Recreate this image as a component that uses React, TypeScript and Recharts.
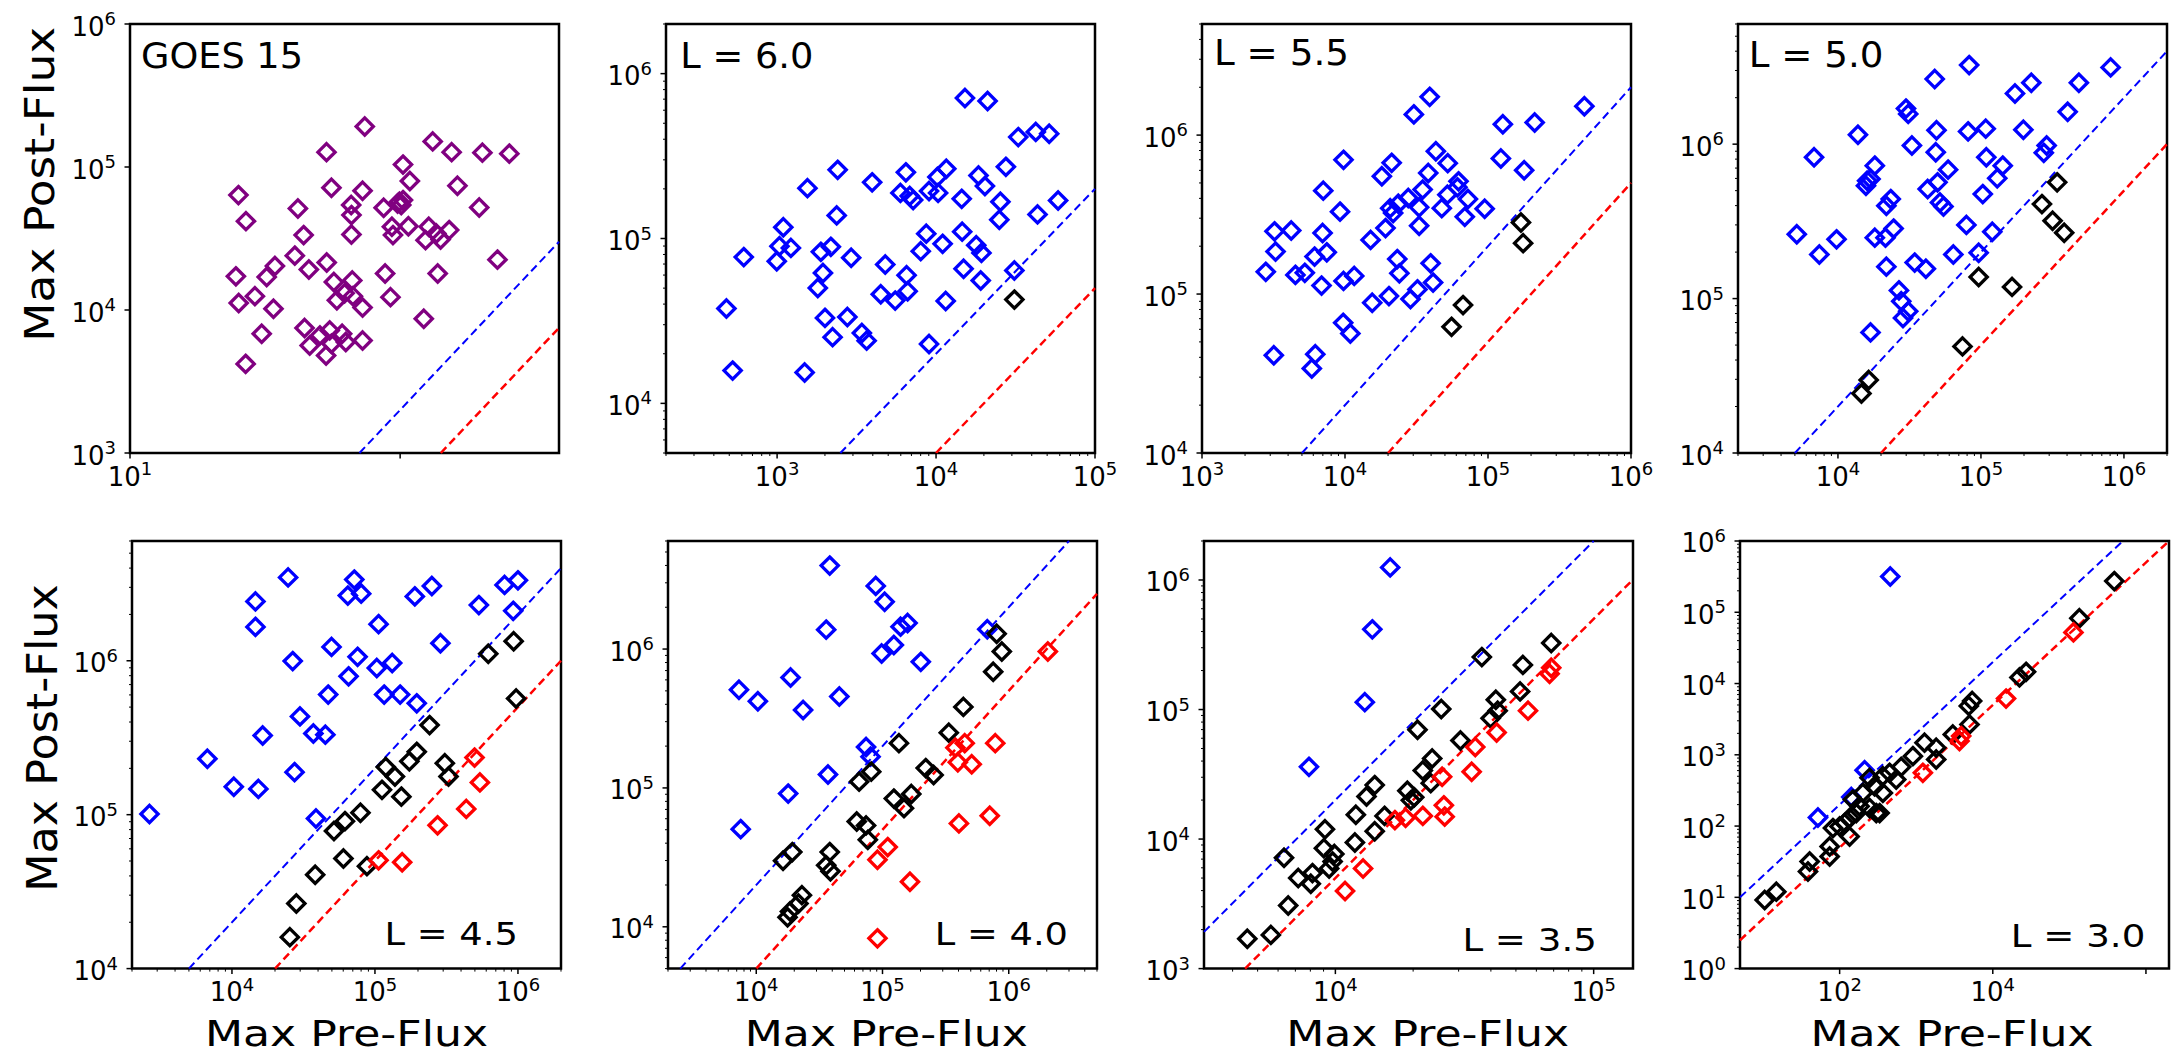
import {
  ReferenceArea,
  ReferenceLine,
  Scatter,
  ScatterChart,
  XAxis,
  YAxis,
} from "recharts";

type Pt = [number, number];

// GOES 15 (purple)
const goes15Points: Pt[] = [
  [547, 1.92e5], [285, 1.27e5], [1742, 1.51e5], [2406, 1.27e5], [4064, 1.26e5], [6430, 1.24e5],
  [1050, 1.04e5], [1180, 7.98e4], [310, 7.16e4], [527, 6.82e4], [2655, 7.4e4], [63.5, 6.36e4],
  [175, 5.13e4], [434, 5.42e4], [436, 4.61e4], [755, 5.19e4], [958, 5.56e4], [1050, 5.87e4],
  [1019, 5.42e4], [988, 5.72e4], [3850, 5.21e4], [72.2, 4.18e4], [193, 3.34e4], [436, 3.37e4],
  [869, 3.82e4], [885, 3.34e4], [1151, 3.85e4], [1629, 3.82e4], [1542, 3.08e4], [1992, 3.11e4],
  [2306, 3.62e4], [1853, 3.43e4], [166, 2.4e4], [5254, 2.25e4], [60.8, 1.72e4], [102.8, 1.7e4],
  [118.3, 2.03e4], [211, 1.92e4], [286, 2.15e4], [774, 1.8e4], [1897, 1.8e4], [323, 1.57e4],
  [442, 1.61e4], [84.1, 1.25e4], [63.8, 1.12e4], [115.4, 1.02e4], [340, 1.17e4], [388, 1.31e4],
  [447, 1.25e4], [527, 1.04e4], [848, 1.23e4], [1496, 8.69e3], [94.4, 6.82e3], [196, 7.48e3],
  [214, 5.65e3], [255, 6.64e3], [301, 7.2e3], [283, 4.81e3], [310, 5.81e3], [372, 6.82e3],
  [396, 5.97e3], [527, 6.12e3], [71.8, 4.2e3],
];

// L = 6.0
const l60Blue: Pt[] = [
  [1.52e4, 7.11e5], [2.11e4, 6.82e5], [3.29e4, 4.12e5], [4.24e4, 4.43e5], [5.15e4, 4.32e5],
  [2405, 2.61e5], [6459, 2.52e5], [1.16e4, 2.65e5], [1.02e4, 2.36e5], [1.85e4, 2.41e5],
  [2.75e4, 2.72e5], [1552, 2.02e5], [3963, 2.19e5], [5967, 1.89e5], [6829, 1.81e5],
  [7175, 1.71e5], [9034, 1.94e5], [1.03e4, 1.89e5], [2.03e4, 2.08e5], [1.45e4, 1.74e5],
  [2.54e4, 1.67e5], [5.86e4, 1.7e5], [2371, 1.38e5], [2.5e4, 1.3e5], [4.35e4, 1.4e5],
  [1094, 1.17e5], [1035, 8.98e4], [1221, 8.77e4], [617, 7.71e4], [995, 7.28e4], [1885, 8.3e4],
  [2178, 8.9e4], [2924, 7.64e4], [8676, 1.07e5], [8010, 8.38e4], [1.1e4, 9.28e4],
  [1.46e4, 1.1e5], [1.79e4, 9.11e4], [1.93e4, 8.18e4], [4790, 6.95e4], [1943, 6.18e4],
  [1803, 5.01e4], [6526, 5.99e4], [1.49e4, 6.55e4], [1.91e4, 5.56e4], [3.11e4, 6.4e4],
  [4489, 4.59e4], [5533, 4.2e4], [6627, 4.79e4], [1.15e4, 4.18e4], [480, 3.76e4], [2001, 3.3e4],
  [2767, 3.34e4], [2234, 2.52e4], [3414, 2.67e4], [3659, 2.4e4], [9034, 2.29e4], [525, 1.58e4],
  [1490, 1.54e4],
];
const l60Black: Pt[] = [[3.11e4, 4.26e4]];

// L = 5.5
const l55Blue: Pt[] = [
  [3.91e4, 1.74e6], [3.03e4, 1.35e6], [4.72e5, 1.52e6], [1.27e5, 1.17e6], [2.12e5, 1.2e6],
  [9765, 6.99e5], [4.32e4, 7.92e5], [5.23e4, 6.66e5], [1.23e5, 7.13e5], [1.79e5, 6.01e5],
  [2.12e4, 6.69e5], [1.81e4, 5.51e5], [3.82e4, 5.78e5], [6.22e4, 5.12e5], [6.11e4, 4.69e5],
  [7046, 4.47e5], [3.49e4, 4.54e5], [2.77e4, 4.02e5], [5.2e4, 4.22e5], [7.24e4, 3.96e5],
  [4.75e4, 3.47e5], [6.88e4, 3.06e5], [9.48e4, 3.44e5], [3.3e4, 3.51e5], [9231, 3.3e5],
  [2.07e4, 3.47e5], [2.36e4, 3.7e5], [2.17e4, 3.23e5], [1.92e4, 2.6e5], [3.3e4, 2.69e5],
  [3214, 2.48e5], [4206, 2.51e5], [6970, 2.42e5], [1.51e4, 2.19e5], [3268, 1.85e5],
  [6125, 1.72e5], [7457, 1.83e5], [2792, 1.38e5], [4499, 1.32e5], [5235, 1.36e5],
  [6854, 1.13e5], [9765, 1.21e5], [1.16e4, 1.3e5], [2.32e4, 1.66e5], [2.4e4, 1.35e5],
  [3.97e4, 1.56e5], [4.13e4, 1.18e5], [1.55e4, 8.81e4], [2.03e4, 9.71e4], [2.87e4, 9.3e4],
  [3.21e4, 1.07e5], [9710, 6.59e4], [1.09e4, 5.65e4], [3178, 4.12e4], [6197, 4.18e4],
  [5858, 3.4e4],
];
const l55Black: Pt[] = [[1.7e5, 2.82e5], [1.76e5, 2.09e5], [6.69e4, 8.52e4], [5.56e4, 6.22e4]];

// L = 5.0
const l50Blue: Pt[] = [
  [8.27e4, 3.25e6], [4.75e4, 2.64e6], [8.07e5, 3.14e6], [2.25e5, 2.5e6], [4.84e5, 2.5e6],
  [1.73e5, 2.13e6], [2.99e4, 1.7e6], [3.1e4, 1.57e6], [4.04e5, 1.62e6], [1.38e4, 1.15e6],
  [4.89e4, 1.23e6], [8.13e4, 1.21e6], [1.08e5, 1.26e6], [1.98e5, 1.24e6], [6806, 8.23e5],
  [3.29e4, 9.8e5], [4.83e4, 8.87e5], [2.88e5, 9.8e5], [2.75e5, 8.79e5], [1.81e4, 7.26e5],
  [5.89e4, 6.84e5], [1.09e5, 8.23e5], [1.42e5, 7.26e5], [1.3e5, 6.01e5], [1.6e4, 5.8e5],
  [1.57e4, 5.38e5], [1.69e4, 5.95e5], [4.24e4, 5.12e5], [4.97e4, 5.66e5], [1.03e5, 4.75e5],
  [2.34e4, 4.41e5], [2.18e4, 3.99e5], [5.17e4, 4.19e5], [5.47e4, 3.95e5], [5153, 2.61e5],
  [9776, 2.42e5], [7412, 1.93e5], [1.81e4, 2.48e5], [2.15e4, 2.48e5], [2.45e4, 2.84e5],
  [7.91e4, 3.0e5], [1.2e5, 2.71e5], [2.18e4, 1.61e5], [3.44e4, 1.71e5], [4.12e4, 1.56e5],
  [6.41e4, 1.93e5], [9.64e4, 1.98e5], [2.67e4, 1.13e5], [2.77e4, 9.61e4], [3.1e4, 8.28e4],
  [2.85e4, 7.49e4], [1.69e4, 6.04e4],
];
const l50Black: Pt[] = [
  [3.41e5, 5.66e5], [2.67e5, 4.09e5], [3.17e5, 3.19e5], [3.82e5, 2.67e5], [9.64e4, 1.38e5],
  [1.65e5, 1.19e5], [7.43e4, 4.9e4], [1.64e4, 2.97e4], [1.46e4, 2.43e4],
];

// L = 4.5
const l45Blue: Pt[] = [
  [2.47e4, 3.48e6], [1.46e4, 2.43e6], [1.46e4, 1.66e6], [7.17e4, 3.37e6], [6.46e4, 2.65e6],
  [8.01e4, 2.73e6], [1.9e5, 2.62e6], [2.5e5, 3.06e6], [5.33e5, 2.3e6], [8.06e5, 3.11e6],
  [1.0e6, 3.33e6], [9.27e5, 2.11e6], [1.06e5, 1.73e6], [4.97e4, 1.23e6], [2.87e5, 1.3e6],
  [2.66e4, 9.95e5], [7.56e4, 1.06e6], [1.03e5, 8.98e5], [1.32e5, 9.67e5], [6.54e4, 7.92e5],
  [4.71e4, 6.03e5], [1.16e5, 6.03e5], [1.5e5, 6.03e5], [1.96e5, 5.29e5], [2.99e4, 4.35e5],
  [1.64e4, 3.27e5], [3.71e4, 3.37e5], [4.5e4, 3.31e5], [6730, 2.31e5], [2.74e4, 1.89e5],
  [1.03e4, 1.52e5], [1.53e4, 1.47e5], [2650, 1.01e5], [3.87e4, 9.44e4],
];
const l45Black: Pt[] = [
  [9.33e5, 1.34e6], [6.2e5, 1.11e6], [9.71e5, 5.69e5], [2.41e5, 3.82e5], [1.96e5, 2.56e5],
  [1.74e5, 2.22e5], [3.08e5, 2.16e5], [3.27e5, 1.77e5], [1.19e5, 2.04e5], [1.38e5, 1.77e5],
  [1.12e5, 1.45e5], [1.53e5, 1.31e5], [7.92e4, 1.03e5], [6.17e4, 9.08e4], [5.17e4, 7.83e4],
  [6.02e4, 5.19e4], [8.79e4, 4.63e4], [3.82e4, 4.07e4], [2.82e4, 2.65e4], [2.54e4, 1.6e4],
];
const l45Red: Pt[] = [
  [4.97e5, 2.35e5], [5.42e5, 1.62e5], [4.35e5, 1.09e5], [2.74e5, 8.53e4], [1.06e5, 5.05e4],
  [1.55e5, 4.91e4],
];

// L = 4.0
const l40Blue: Pt[] = [
  [3.82e4, 3.99e6], [8.84e4, 2.85e6], [1.04e5, 2.19e6], [3.58e4, 1.38e6], [1.39e5, 1.45e6],
  [1.58e5, 1.54e6], [1.23e5, 1.07e6], [9.84e4, 9.29e5], [2.01e5, 8.09e5], [6.76e5, 1.39e6],
  [7297, 5.09e5], [1.03e4, 4.21e5], [1.87e4, 6.24e5], [2.35e4, 3.64e5], [4.55e4, 4.55e5],
  [7.41e4, 1.97e5], [8.04e4, 1.68e5], [3.7e4, 1.25e5], [1.79e4, 9.1e4], [7530, 5.05e4],
];
const l40Black: Pt[] = [
  [8.02e5, 1.29e6], [8.81e5, 9.6e5], [7.53e5, 6.86e5], [4.37e5, 3.83e5], [3.35e5, 2.5e5],
  [1.35e5, 2.1e5], [6.53e4, 1.11e5], [8.14e4, 1.31e5], [2.2e5, 1.39e5], [2.54e5, 1.24e5],
  [1.69e5, 9.04e4], [1.23e5, 8.38e4], [1.48e5, 7.15e4], [6.25e4, 5.73e4], [7.41e4, 5.37e4],
  [7.65e4, 4.23e4], [1.93e4, 3.45e4], [1.63e4, 2.99e4], [3.82e4, 3.45e4], [3.58e4, 2.77e4],
  [3.87e4, 2.51e4], [2.3e4, 1.69e4], [2.16e4, 1.47e4], [1.85e4, 1.29e4], [1.77e4, 1.17e4],
];
const l40Red: Pt[] = [
  [2.04e6, 9.6e5], [7.82e5, 2.1e5], [3.78e5, 1.95e5], [4.48e5, 2.1e5], [3.95e5, 1.53e5],
  [5.09e5, 1.48e5], [7.07e5, 6.3e4], [4.03e5, 5.55e4], [1.1e5, 3.75e4], [9.12e4, 3.04e4],
  [1.65e5, 2.11e4], [9.12e4, 8.26e3],
];

// L = 3.5
const l35Blue: Pt[] = [[1.63e4, 1.25e6], [1.39e4, 4.16e5], [1.3e4, 1.14e5], [7903, 3.61e4]];
const l35Black: Pt[] = [
  [6.85e4, 3.26e5], [3.69e4, 2.54e5], [5.32e4, 2.21e5], [5.19e4, 1.38e5], [4.18e4, 1.19e5],
  [4.25e4, 9.8e4], [3.99e4, 8.55e4], [2.57e4, 1.01e5], [2.08e4, 6.98e4], [3.05e4, 5.77e4],
  [2.37e4, 4.19e4], [2.18e4, 3.38e4], [2.34e4, 2.7e4], [1.42e4, 2.61e4], [1.32e4, 2.13e4],
  [1.2e4, 1.54e4], [1.9e4, 2.36e4], [1.96e4, 1.99e4], [2.02e4, 2.1e4], [1.55e4, 1.51e4],
  [1.42e4, 1.15e4], [9113, 1.19e4], [9029, 8.49e3], [1.19e4, 9.4e3], [9907, 7.67e3],
  [9755, 6.7e3], [9459, 5.93e3], [8150, 5.46e3], [8032, 4.52e3], [7181, 5.0e3], [6327, 7.17e3],
  [6567, 3.07e3], [5626, 1.82e3], [4560, 1.7e3],
];
const l35Red: Pt[] = [
  [6.85e4, 2.1e5], [6.75e4, 1.89e5], [5.57e4, 9.8e4], [4.21e4, 6.65e4], [3.48e4, 5.14e4],
  [3.37e4, 3.31e4], [2.59e4, 3.03e4], [2.63e4, 1.82e4], [2.65e4, 1.49e4], [2.18e4, 1.51e4],
  [1.87e4, 1.46e4], [1.7e4, 1.4e4], [1.28e4, 5.93e3], [1.09e4, 3.97e3],
];

// L = 3.0
const l30Blue: Pt[] = [[458, 3.18e5], [52.1, 132], [212, 608], [142, 256]];
const l30Black: Pt[] = [
  [3.86e5, 2.74e5], [1.35e5, 8.23e4], [2.72e4, 1.46e4], [2.23e4, 1.22e4], [5375, 5.7e3],
  [4864, 4.85e3], [4966, 2.67e3], [3006, 1.93e3], [1824, 1.26e3], [1284, 1.48e3], [1824, 860],
  [905, 958], [637, 677], [449, 558], [367, 501], [548, 449], [246, 475], [286, 362], [201, 292],
  [367, 292], [149, 235], [182, 189], [246, 179], [165, 152], [301, 152], [135, 130], [116, 110],
  [100, 98.9], [81.8, 93.7], [135, 71.5], [333, 152], [74.1, 51.7], [74.1, 37.4], [40.6, 31.8],
  [38.6, 23.0], [14.9, 12.0], [10.5, 9.17],
];
const l30Red: Pt[] = [[1.13e5, 5.22e4], [1.49e4, 6.15e3], [3864, 1.83e3], [3674, 1.56e3], [1221, 558]];

// dashed guide lines: y = k * x^p  (blue, red)
const guideFactors = [2, 0.5];
const guidePower = 1;
const l35GuideFactors = [2e-4, 5e-5];
const l35GuidePower = 2;

const FONT = '"DejaVu Sans", Verdana, sans-serif';
const BLUE = "#0000ff";
const RED = "#ff0000";
const PURPLE = "#800080";
const BLACK = "#000000";

const YW = 90;
const XH = 60;
const MT = 20;
const MR = 40;

interface Series {
  pts: Pt[];
  color: string;
}

interface PanelDef {
  left: number;
  top: number;
  w: number;
  h: number;
  xDomain: [number, number];
  yDomain: [number, number];
  xMajor: number[];
  xLabels: number[];
  xMinor: boolean;
  yMajor: number[];
  yLabels: number[];
  yMinor: boolean;
  series: Series[];
  guideK: number[];
  guideP: number;
}

const ROW1 = 24.3;
const ROW2 = 540.7;
const H1 = 429;
const H2 = 427.6;
const PW = 429;

const panels: PanelDef[] = [
  {
    left: 130.3, top: ROW1, w: PW, h: H1,
    xDomain: [10, 1.5e4], yDomain: [1e3, 1e6],
    xMajor: [10, 1e3], xLabels: [10], xMinor: false,
    yMajor: [1e3, 1e4, 1e5, 1e6], yLabels: [1e3, 1e4, 1e5, 1e6], yMinor: false,
    series: [{ pts: goes15Points, color: PURPLE }],
    guideK: guideFactors, guideP: guidePower,
  },
  {
    left: 665.7, top: ROW1, w: PW, h: H1,
    xDomain: [200, 1e5], yDomain: [5e3, 2e6],
    xMajor: [1e3, 1e4, 1e5], xLabels: [1e3, 1e4, 1e5], xMinor: true,
    yMajor: [1e4, 1e5, 1e6], yLabels: [1e4, 1e5, 1e6], yMinor: true,
    series: [{ pts: l60Blue, color: BLUE }, { pts: l60Black, color: BLACK }],
    guideK: guideFactors, guideP: guidePower,
  },
  {
    left: 1201.7, top: ROW1, w: PW, h: H1,
    xDomain: [1e3, 1e6], yDomain: [1e4, 5e6],
    xMajor: [1e3, 1e4, 1e5, 1e6], xLabels: [1e3, 1e4, 1e5, 1e6], xMinor: true,
    yMajor: [1e4, 1e5, 1e6], yLabels: [1e4, 1e5, 1e6], yMinor: true,
    series: [{ pts: l55Blue, color: BLUE }, { pts: l55Black, color: BLACK }],
    guideK: guideFactors, guideP: guidePower,
  },
  {
    left: 1737.7, top: ROW1, w: PW, h: H1,
    xDomain: [2e3, 2e6], yDomain: [1e4, 6e6],
    xMajor: [1e4, 1e5, 1e6], xLabels: [1e4, 1e5, 1e6], xMinor: true,
    yMajor: [1e4, 1e5, 1e6], yLabels: [1e4, 1e5, 1e6], yMinor: true,
    series: [{ pts: l50Blue, color: BLUE }, { pts: l50Black, color: BLACK }],
    guideK: guideFactors, guideP: guidePower,
  },
  {
    left: 132, top: ROW2, w: PW, h: H2,
    xDomain: [2e3, 2e6], yDomain: [1e4, 6e6],
    xMajor: [1e4, 1e5, 1e6], xLabels: [1e4, 1e5, 1e6], xMinor: true,
    yMajor: [1e4, 1e5, 1e6], yLabels: [1e4, 1e5, 1e6], yMinor: true,
    series: [
      { pts: l45Blue, color: BLUE },
      { pts: l45Black, color: BLACK },
      { pts: l45Red, color: RED },
    ],
    guideK: guideFactors, guideP: guidePower,
  },
  {
    left: 667.7, top: ROW2, w: PW, h: H2,
    xDomain: [2e3, 5e6], yDomain: [5e3, 6e6],
    xMajor: [1e4, 1e5, 1e6], xLabels: [1e4, 1e5, 1e6], xMinor: true,
    yMajor: [1e4, 1e5, 1e6], yLabels: [1e4, 1e5, 1e6], yMinor: true,
    series: [
      { pts: l40Blue, color: BLUE },
      { pts: l40Black, color: BLACK },
      { pts: l40Red, color: RED },
    ],
    guideK: guideFactors, guideP: guidePower,
  },
  {
    left: 1203.5, top: ROW2, w: PW, h: H2,
    xDomain: [3.1e3, 1.42e5], yDomain: [1e3, 2e6],
    xMajor: [1e4, 1e5], xLabels: [1e4, 1e5], xMinor: true,
    yMajor: [1e3, 1e4, 1e5, 1e6], yLabels: [1e3, 1e4, 1e5, 1e6], yMinor: true,
    series: [
      { pts: l35Blue, color: BLUE },
      { pts: l35Black, color: BLACK },
      { pts: l35Red, color: RED },
    ],
    guideK: l35GuideFactors, guideP: l35GuidePower,
  },
  {
    left: 1740.3, top: ROW2, w: PW, h: H2,
    xDomain: [5, 2e6], yDomain: [1, 1e6],
    xMajor: [1e2, 1e4, 1e6], xLabels: [1e2, 1e4], xMinor: false,
    yMajor: [1, 10, 1e2, 1e3, 1e4, 1e5, 1e6],
    yLabels: [1, 10, 1e2, 1e3, 1e4, 1e5, 1e6], yMinor: true,
    series: [
      { pts: l30Blue, color: BLUE },
      { pts: l30Black, color: BLACK },
      { pts: l30Red, color: RED },
    ],
    guideK: guideFactors, guideP: guidePower,
  },
];

const panelTags = [
  { text: "GOES 15", x: 141, y: 68.3, len: 162, size: 36 },
  { text: "L = 6.0", x: 680.3, y: 68.3, len: 133, size: 36 },
  { text: "L = 5.5", x: 1214, y: 65, len: 135, size: 36 },
  { text: "L = 5.0", x: 1748.7, y: 66.7, len: 134.7, size: 36 },
  { text: "L = 4.5", x: 384.5, y: 945.2, len: 133.4, size: 32 },
  { text: "L = 4.0", x: 934.8, y: 945.2, len: 133.2, size: 32 },
  { text: "L = 3.5", x: 1462.4, y: 950.9, len: 134.4, size: 32 },
  { text: "L = 3.0", x: 2010.7, y: 947.3, len: 134.6, size: 32 },
];

const preFluxCenters = [346.5, 886.3, 1427.7, 1952];

const near = (a: number, b: number) => Math.abs(a - b) <= Math.abs(b) * 1e-6;
const isDecade = (v: number) => {
  const l = Math.log10(v);
  return Math.abs(l - Math.round(l)) < 1e-6;
};

function buildTicks(domain: [number, number], major: number[], minor: boolean) {
  const out = [...major];
  if (minor) {
    const lo = Math.floor(Math.log10(domain[0]));
    const hi = Math.ceil(Math.log10(domain[1]));
    for (let n = lo; n <= hi; n++) {
      for (let k = 2; k <= 9; k++) {
        const v = k * Math.pow(10, n);
        if (v >= domain[0] && v <= domain[1]) out.push(v);
      }
    }
  }
  return out.sort((a, b) => a - b);
}

function PowerLabel({ x, y, value, anchor }: { x: number; y: number; value: number; anchor: string }) {
  return (
    <text x={x} y={y} textAnchor={anchor} fontFamily={FONT} fontSize={26} fill="#000">
      <tspan>10</tspan>
      <tspan dy={-10.5} fontSize={18}>
        {Math.round(Math.log10(value))}
      </tspan>
    </text>
  );
}

function makeXTick(labels: number[]) {
  return (props: any) => {
    const { x, y, payload } = props;
    const v = payload.value as number;
    const major = isDecade(v);
    const show = labels.some((l) => near(v, l));
    return (
      <g>
        <line x1={x} y1={y} x2={x} y2={y + (major ? 5.5 : 3)} stroke="#000" strokeWidth={major ? 1.5 : 1} />
        {show && <PowerLabel x={x} y={y + 32.5} value={v} anchor="middle" />}
      </g>
    );
  };
}

function makeYTick(labels: number[]) {
  return (props: any) => {
    const { x, y, payload } = props;
    const v = payload.value as number;
    const major = isDecade(v);
    const show = labels.some((l) => near(v, l));
    return (
      <g>
        <line x1={x - (major ? 5.5 : 3)} y1={y} x2={x} y2={y} stroke="#000" strokeWidth={major ? 1.5 : 1} />
        {show && <PowerLabel x={x - 14} y={y + 11.5} value={v} anchor="end" />}
      </g>
    );
  };
}

const R = 8.6;
function diamond(color: string) {
  return (props: any) => {
    const { cx, cy } = props;
    if (cx == null || cy == null) return <g />;
    return (
      <path
        d={`M${cx},${cy - R}L${cx + R},${cy}L${cx},${cy + R}L${cx - R},${cy}Z`}
        fill="none"
        stroke={color}
        strokeWidth={3.3}
        strokeLinejoin="miter"
      />
    );
  };
}

function guideSegment(k: number, p: number, xd: [number, number], yd: [number, number]) {
  const xa = Math.max(xd[0], Math.pow(yd[0] / k, 1 / p));
  const xb = Math.min(xd[1], Math.pow(yd[1] / k, 1 / p));
  if (xa >= xb) return null;
  return [
    { x: xa, y: k * Math.pow(xa, p) },
    { x: xb, y: k * Math.pow(xb, p) },
  ];
}

const toXY = (pts: Pt[]) => pts.map(([x, y]) => ({ x, y }));

function Panel({ def }: { def: PanelDef }) {
  const W = YW + def.w + MR;
  const H = MT + def.h + XH;
  const xTicks = buildTicks(def.xDomain, def.xMajor, def.xMinor);
  const yTicks = buildTicks(def.yDomain, def.yMajor, def.yMinor);
  const guideColors = [BLUE, RED];
  const guideWidths = [2, 2.5];
  return (
    <div style={{ position: "absolute", left: def.left - YW, top: def.top - MT }}>
      <ScatterChart width={W} height={H} margin={{ top: MT, right: MR, bottom: 0, left: 0 }}>
        <XAxis
          type="number"
          dataKey="x"
          scale="log"
          domain={def.xDomain}
          allowDataOverflow
          ticks={xTicks}
          interval={0}
          axisLine={false}
          tickLine={false}
          tickSize={0}
          tickMargin={0}
          height={XH}
          tick={makeXTick(def.xLabels)}
        />
        <YAxis
          type="number"
          dataKey="y"
          scale="log"
          domain={def.yDomain}
          allowDataOverflow
          ticks={yTicks}
          interval={0}
          axisLine={false}
          tickLine={false}
          tickSize={0}
          tickMargin={0}
          width={YW}
          tick={makeYTick(def.yLabels)}
        />
        {def.guideK.map((k, i) => {
          const seg = guideSegment(k, def.guideP, def.xDomain, def.yDomain);
          if (!seg) return null;
          return (
            <ReferenceLine
              key={`g${i}`}
              segment={seg}
              stroke={guideColors[i]}
              strokeWidth={guideWidths[i]}
              strokeDasharray="8 4.5"
              ifOverflow="visible"
            />
          );
        })}
        {def.series.map((s, i) => (
          <Scatter key={`s${i}`} data={toXY(s.pts)} shape={diamond(s.color)} isAnimationActive={false} />
        ))}
        <ReferenceArea
          x1={def.xDomain[0]}
          x2={def.xDomain[1]}
          y1={def.yDomain[0]}
          y2={def.yDomain[1]}
          fill="none"
          fillOpacity={0}
          stroke="#000"
          strokeWidth={2.5}
          strokeOpacity={1}
          ifOverflow="visible"
        />
      </ScatterChart>
    </div>
  );
}

export default function App() {
  return (
    <div style={{ position: "relative", width: 2182, height: 1059, background: "#fff", overflow: "hidden" }}>
      <style>{"body{margin:0;}"}</style>
      {panels.map((p, i) => (
        <Panel key={i} def={p} />
      ))}
      <svg
        width={2182}
        height={1059}
        style={{ position: "absolute", left: 0, top: 0, pointerEvents: "none" }}
      >
        <g fontFamily={FONT} fill="#000">
          <text
            transform="translate(53.6,184.2) rotate(-90)"
            textAnchor="middle"
            fontSize={40}
            textLength={315}
            lengthAdjust="spacingAndGlyphs"
          >
            Max Post-Flux
          </text>
          <text
            transform="translate(57.1,738) rotate(-90)"
            textAnchor="middle"
            fontSize={43}
            textLength={307.5}
            lengthAdjust="spacingAndGlyphs"
          >
            Max Post-Flux
          </text>
          {preFluxCenters.map((cx, i) => (
            <text
              key={`pf${i}`}
              x={cx}
              y={1046}
              textAnchor="middle"
              fontSize={35}
              textLength={283}
              lengthAdjust="spacingAndGlyphs"
            >
              Max Pre-Flux
            </text>
          ))}
          {panelTags.map((t, i) => (
            <text
              key={`t${i}`}
              x={t.x}
              y={t.y}
              fontSize={t.size}
              textLength={t.len}
              lengthAdjust="spacingAndGlyphs"
            >
              {t.text}
            </text>
          ))}
        </g>
      </svg>
    </div>
  );
}
